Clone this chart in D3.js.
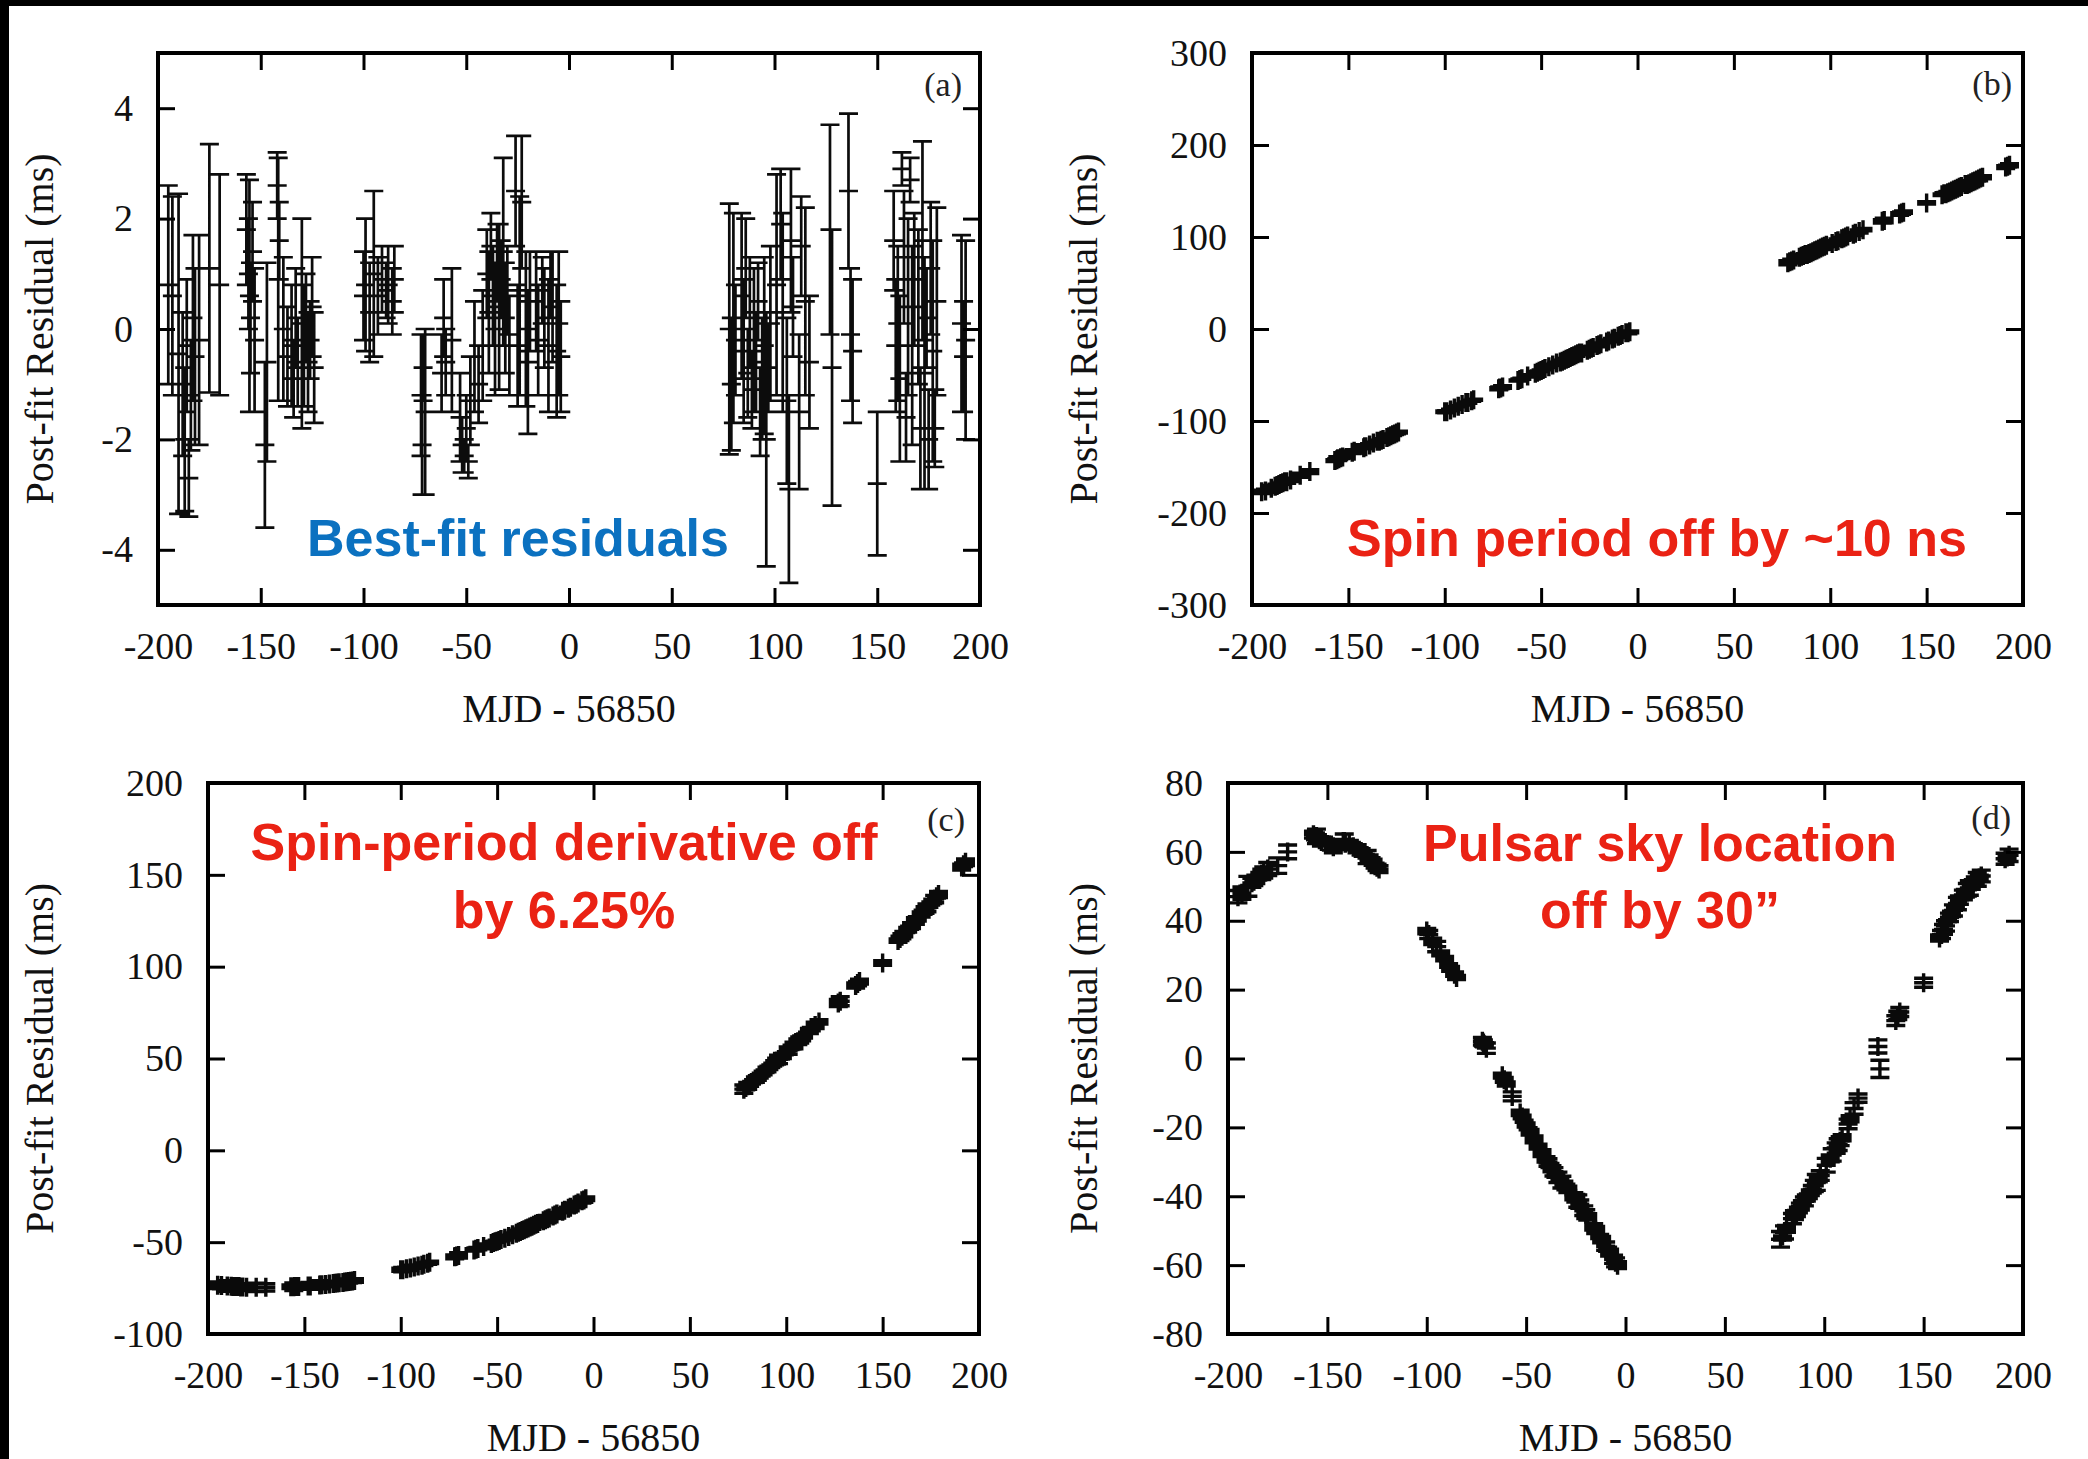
<!DOCTYPE html>
<html><head><meta charset="utf-8">
<script src="https://cdn.jsdelivr.net/npm/d3@7"></script>
<style>
html,body{margin:0;padding:0;background:#fff;}
svg{display:block;}
</style></head><body>
<script>
// ---------------- DATA ----------------
const mjd = [
 -195,-193,-190,-188,-187,-186,-185,-184,-183,-182,-180,-175,-170,
 -157,-156,-155,-155.5,-154,-153,-148,-147,-142,-141,-141.5,-139,-137,-135,-134,-133,-132,-130,-129,-128,-127,-126,-125,-124,
 -100,-99,-97,-95,-93,-91,-89,-88,-86,-85,
 -72,-71.5,-71,-70,-62,-61,-60,-57,-53,-52,-51,-50,-49,-48,-46,-44,-42,
 -40,-39,-38,-37,-36,-35,-34,-33,-32,-31,-30,-29,-26,-25,-24,-23,-21,-20,-19,
 -16,-15,-13,-12,-10,-9,-8,-6,-5,-4,
 78,79,80,81,84,85,86,87,88,89,90,91,92,93,94,95,96,97,98,
 101,103,104,106,107,108,109,112,113,115,117,127,128,136,137,138,150,
 158,159,160,161,162,163,164,165,166,167,168,170,171,172,173,174,175,176,177,178,179,
 191,192,193
];
const resA = [
 0.8,0.6,-0.45,-1.0,-2.0,-0.3,-2.7,-1.2,0.2,-0.5,-0.2,1.1,0.8,
 1.8,1.0,0.2,0.6,1.4,-0.2,-2.1,-0.6,2.6,1.6,0.9,0.0,-0.5,-0.3,-0.9,0.2,-0.6,0.1,-0.3,0.2,-0.6,-0.2,0.4,-0.7,
 0.6,0.8,0.3,1.0,0.6,0.9,0.7,0.8,0.5,0.9,
 -1.2,-2.1,-0.7,-1.5,-0.8,0.2,-0.6,-0.2,-1.6,-2.1,-2.3,-1.8,-2.4,-1.3,-0.5,-1.0,-0.3,
 1.0,0.3,1.5,0.6,0.0,1.2,0.4,0.9,1.4,0.2,0.7,-0.3,2.5,-0.3,0.6,2.3,0.0,-0.6,0.5,
 0.5,-0.2,0.7,0.2,-0.3,0.8,0.4,-0.4,0.1,-0.5,
 0.0,-1.0,0.2,-0.2,0.6,-0.4,1.1,-0.8,0.3,-1.1,-0.2,-0.6,0.5,-1.5,-0.9,-0.3,-2.0,-0.7,0.1,
 0.8,1.9,0.3,-1.3,-2.9,1.6,0.4,-1.5,1.5,0.5,-0.6,1.8,-0.7,2.5,-0.1,-0.4,-2.8,
 1.6,-0.3,0.1,-0.9,2.9,1.3,-1.6,0.4,2.7,-0.3,0.9,0.4,-1.8,1.6,-0.8,0.2,-2.0,1.1,-0.4,-1.8,0.5,
 0.1,-0.5,-0.2
];
const errA = [
 1.8,1.8,2.9,1.3,1.3,1.2,0.7,1.0,1.5,1.6,1.9,2.25,2.0,
 1.0,1.0,1.0,2.1,0.9,1.3,1.5,1.8,0.6,0.7,2.2,1.3,0.9,1.1,0.7,0.9,0.8,1.9,1.1,0.8,0.9,0.7,0.9,1.0,
 0.8,1.2,0.9,1.5,0.7,0.6,0.5,0.7,0.6,0.6,
 1.1,0.9,0.6,1.5,0.7,0.7,0.6,1.3,0.8,0.5,0.3,0.6,0.3,0.8,1.0,0.7,1.0,
 0.8,1.1,0.6,0.9,1.2,0.7,1.5,0.7,1.7,1.0,0.8,0.9,1.0,1.1,1.8,1.2,1.4,1.3,0.9,
 0.9,1.0,0.6,0.9,1.2,0.6,1.0,1.2,1.3,1.0,
 2.27,1.2,1.9,1.0,1.5,1.3,0.9,0.8,1.0,0.7,1.3,0.9,0.7,0.8,1.1,1.6,2.3,0.8,1.4,
 2.0,1.0,1.8,1.5,1.7,1.3,0.9,1.4,0.9,1.7,1.2,1.9,2.5,1.4,1.2,1.3,1.3,
 0.9,1.2,1.4,1.5,0.3,1.2,0.8,1.6,0.4,1.8,1.2,1.4,1.1,1.8,2.1,0.9,0.9,1.2,2.0,0.7,1.7,
 1.6,1.0,1.8
];
const resB = [
 -177,-176,-173,-171,-170,-169,-168,-167,-166,-166,-164,-159,-155,
 -143,-142,-141,-141,-140,-139,-134,-133,-129,-128,-128,-126,-124,-122,-122,-121,-120,-118,-117,-116,-115,-114,-113,-112,
 -90,-90,-88,-86,-84,-82,-80,-80,-78,-77,
 -65,-64,-64,-63,-56,-55,-54,-51,-48,-47,-46,-45,-44,-43,-41,-39,-37,
 -36,-35,-34,-33,-32,-31,-30,-29,-28,-27,-26,-26,-23,-22,-21,-20,-18,-17,-16,
 -14,-13,-11,-10,-8,-7,-6,-4,-4,-3,
 72,73,74,75,78,79,80,81,81,82,83,84,85,86,87,88,89,90,91,
 93,95,96,98,99,100,101,103,104,106,108,117,118,125,126,127,137,
 146,147,147,148,149,150,151,152,153,154,155,157,157,158,159,160,161,162,163,164,165,
 176,177,178
];
const resC = [
 -73.5,-73.6,-73.9,-74.0,-74.1,-74.1,-74.2,-74.2,-74.4,-74.4,-74.5,-74.6,-74.6,
 -74.3,-74.3,-74.2,-74.3,-74.2,-74.1,-73.8,-73.8,-73.3,-73.2,-73.2,-73.0,-72.8,-72.5,-72.4,-72.3,-72.1,-71.9,-71.7,-71.6,-71.4,-71.3,-71.1,-70.9,
 -65,-65,-64.5,-64,-63.5,-63,-62.5,-62,-61.5,-61,
 -58,-57.8,-57.5,-57.2,-54.2,-53.9,-53.5,-52.3,-50.7,-50.2,-49.8,-49.5,-49.1,-48.6,-47.8,-46.9,-46.0,
 -45.1,-44.6,-44.2,-43.7,-43.2,-42.7,-42.3,-41.8,-41.3,-40.8,-40.3,-39.8,-38.3,-37.8,-37.3,-36.8,-35.7,-35.2,-34.7,
 -33.1,-32.6,-31.5,-31.0,-29.8,-29.3,-28.7,-27.5,-27.0,-26.4,
 33.3,34.2,35.1,35.9,38.5,39.4,40.3,41.2,42.1,43.0,44.0,44.9,45.8,46.7,47.7,48.6,49.5,50.5,51.4,
 54.3,56.2,57.1,59.1,60.1,61.0,62.0,65.0,66.0,68.0,69.9,80.2,81.2,89.8,90.8,91.9,102,
 114.2,115.4,116.6,117.7,118.9,120.1,121.2,122.4,123.6,124.8,126.0,128.4,129.6,130.8,132.0,133.2,134.4,135.6,136.8,138.1,139.3,
 154.2,155.5,156.8
];
const resD = [
 47,48,50,51,51.5,52,52.5,53,53.5,54,55,56,60,
 65,64.5,64,64.5,63.5,63,62,61.5,63,62.5,63,62,61.5,61,60.5,60,59.5,58.5,58,57.5,57,56,55.5,55,
 37,36,34,32.5,30.5,29,27,26,24.5,23.5,
 5,4.5,4,3,-5,-6.2,-7.4,-11,-15.8,-17,-18.2,-19.3,-20.4,-21.4,-23.5,-25.6,-27.5,
 -29.3,-30.2,-31.1,-32,-32.9,-33.8,-34.5,-35.2,-35.9,-36.6,-37.3,-38,-40,-40.6,-41.4,-42.3,-44.2,-45.2,-46,
 -48.9,-49.8,-51.7,-52.6,-54.5,-55.4,-56.4,-58.3,-59.2,-60,
 -52.5,-51.5,-50.5,-49.5,-46.5,-45.5,-45,-44,-43,-42,-41.5,-40.5,-40,-39,-38,-37,-36,-35,-34,
 -31,-29,-28,-26,-25,-24,-23,-19,-17.5,-14.5,-11.5,3.5,-3,11,12.5,13.5,22,
 35,36,37.5,38.5,40,41,42,43,44,45,46,47.5,48,49,49.5,50,51,51.5,52,52.5,53,
 58,58.5,59
];
const xTicks  = [-200,-150,-100,-50,0,50,100,150,200];
const yTicksA = [-4,-2,0,2,4];
const yTicksB = [-300,-200,-100,0,100,200,300];
const yTicksC = [-100,-50,0,50,100,150,200];
const yTicksD = [-80,-60,-40,-20,0,20,40,60,80];
const panelLabels = ["(a)","(b)","(c)","(d)"];
const xTitle = "MJD - 56850";
const yTitle = "Post-fit Residual (ms)";
const notesA = ["Best-fit residuals"];
const notesB = ["Spin period off by ~10 ns"];
const notesC = ["Spin-period derivative off","by 6.25%"];
const notesD = ["Pulsar sky location","off by 30\u201D"];

// ---------------- LAYOUT ----------------
const W = 2088, H = 1459;
const SERIF = "'Liberation Serif','Times New Roman',Times,serif";
const SANS = "'Liberation Sans',Arial,Helvetica,sans-serif";
const BLUE = "#0b71c0", RED = "#ea2214";

const svg = d3.select("body").append("svg").attr("width", W).attr("height", H);
svg.append("rect").attr("width", W).attr("height", H).attr("fill", "#fff");

const panels = [
  {l:158, r:980,  t:53,  b:605,  dom:[-5,5],     ticks:yTicksA, vals:resA, bars:true,
   lab:panelLabels[0], labX:962,  labY:96,  titleX:52.6,
   notes:notesA, noteColor:BLUE, noteX:518,  noteY:[556]},
  {l:1252, r:2023, t:53,  b:605,  dom:[-300,300], ticks:yTicksB, vals:resB, bars:false,
   lab:panelLabels[1], labX:2012, labY:95,  titleX:1096.6,
   notes:notesB, noteColor:RED,  noteX:1657, noteY:[556]},
  {l:208, r:979,  t:783, b:1334, dom:[-100,200], ticks:yTicksC, vals:resC, bars:false,
   lab:panelLabels[2], labX:965,  labY:831, titleX:52.6,
   notes:notesC, noteColor:RED,  noteX:564,  noteY:[860,928]},
  {l:1228, r:2023, t:783, b:1334, dom:[-80,80],   ticks:yTicksD, vals:resD, bars:false,
   lab:panelLabels[3], labX:2011, labY:829, titleX:1096.6,
   notes:notesD, noteColor:RED,  noteX:1660, noteY:[861,928]}
];

const fmt = d => String(d);
const TK = 17, CAP = 9.5;

panels.forEach(p => {
  const g = svg.append("g");
  const x = d3.scaleLinear().domain([-200, 200]).range([p.l, p.r]);
  const y = d3.scaleLinear().domain(p.dom).range([p.b, p.t]);

  // markers
  const pts = mjd.map((m, i) => ({x: x(m), yc: y(p.vals[i]), y1: y(p.vals[i] - errA[i]), y2: y(p.vals[i] + errA[i])}));
  if (p.bars) {
    g.append("path")
      .attr("d", pts.map(d =>
        `M${d.x},${d.y1}V${d.y2}M${d.x-CAP},${d.y1}h${2*CAP}M${d.x-CAP},${d.y2}h${2*CAP}M${d.x-CAP},${d.yc}h${2*CAP}`).join(""))
      .attr("fill", "none").attr("stroke", "#0c0c0c").attr("stroke-width", 2.7);
  } else {
    g.append("path")
      .attr("d", pts.map(d =>
        `M${d.x},${Math.min(d.y1, d.yc+CAP)}V${Math.max(d.y2, d.yc-CAP)}M${d.x-CAP},${d.y1}h${2*CAP}M${d.x-CAP},${d.y2}h${2*CAP}M${d.x-CAP},${d.yc}h${2*CAP}M${d.x},${d.yc-CAP}v${2*CAP}`).join(""))
      .attr("fill", "none").attr("stroke", "#0a0a0a").attr("stroke-width", 3.4);
  }

  // axes (inward ticks on all four sides)
  const styleAxis = sel => {
    sel.select(".domain").remove();
    sel.selectAll(".tick line").attr("stroke", "#000").attr("stroke-width", 3);
    sel.selectAll(".tick text").attr("fill", "#111").attr("font-family", SERIF).attr("font-size", 38);
  };
  g.append("g").attr("transform", `translate(0,${p.b})`)
    .call(d3.axisBottom(x).tickValues(xTicks).tickFormat(fmt).tickSize(-TK).tickPadding(27)).call(styleAxis);
  g.append("g").attr("transform", `translate(0,${p.t})`)
    .call(d3.axisTop(x).tickValues(xTicks).tickFormat("").tickSize(-TK)).call(styleAxis);
  g.append("g").attr("transform", `translate(${p.l},0)`)
    .call(d3.axisLeft(y).tickValues(p.ticks).tickFormat(fmt).tickSize(-TK).tickPadding(25)).call(styleAxis);
  g.append("g").attr("transform", `translate(${p.r},0)`)
    .call(d3.axisRight(y).tickValues(p.ticks).tickFormat("").tickSize(-TK)).call(styleAxis);

  // frame
  g.append("rect").attr("x", p.l).attr("y", p.t).attr("width", p.r - p.l).attr("height", p.b - p.t)
    .attr("fill", "none").attr("stroke", "#000").attr("stroke-width", 4);

  // panel label
  g.append("text").attr("x", p.labX).attr("y", p.labY).attr("text-anchor", "end")
    .attr("font-family", SERIF).attr("font-size", 34).attr("fill", "#222").text(p.lab);

  // axis titles
  g.append("text").attr("x", (p.l + p.r) / 2).attr("y", p.b + 117).attr("text-anchor", "middle")
    .attr("font-family", SERIF).attr("font-size", 40).attr("fill", "#111").text(xTitle);
  g.append("text").attr("transform", `translate(${p.titleX},${(p.t + p.b) / 2}) rotate(-90)`)
    .attr("text-anchor", "middle").attr("font-family", SERIF).attr("font-size", 40).attr("fill", "#111")
    .text(yTitle);

  // annotations
  p.notes.forEach((s, i) => {
    g.append("text").attr("x", p.noteX).attr("y", p.noteY[i]).attr("text-anchor", "middle")
      .attr("font-family", SANS).attr("font-weight", "bold").attr("font-size", 52)
      .attr("fill", p.noteColor).text(s);
  });
});

// black border strips of the screenshot
svg.append("rect").attr("x", 0).attr("y", 0).attr("width", W).attr("height", 6).attr("fill", "#000");
svg.append("rect").attr("x", 0).attr("y", 0).attr("width", 9).attr("height", H).attr("fill", "#000");
</script>
</body></html>
